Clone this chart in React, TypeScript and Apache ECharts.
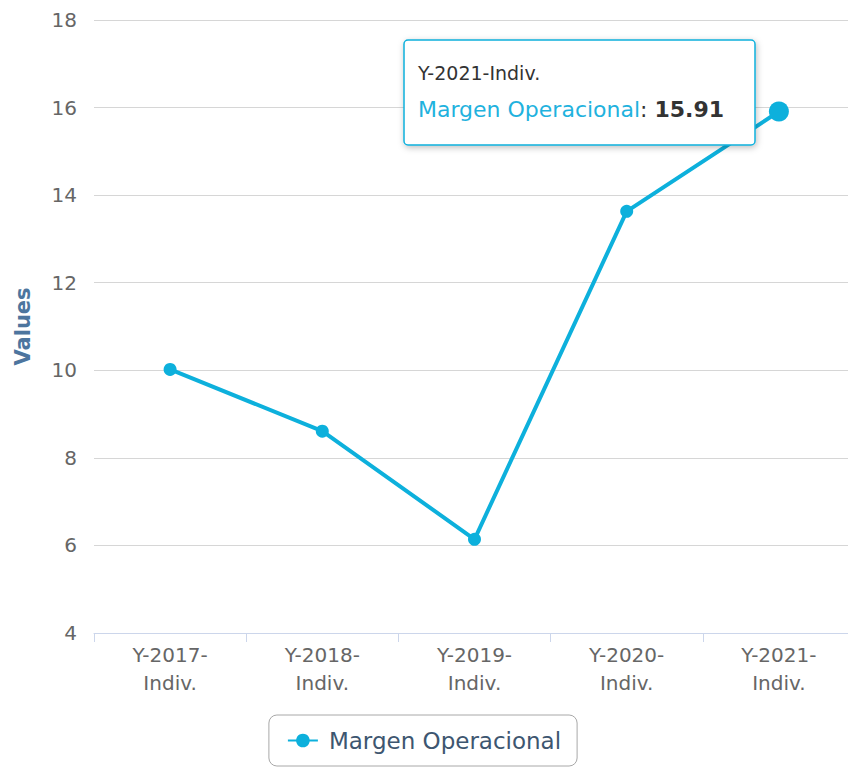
import React, { useEffect, useRef } from "react";
import * as echarts from "echarts";

const categories = ["Y-2017-\nIndiv.", "Y-2018-\nIndiv.", "Y-2019-\nIndiv.", "Y-2020-\nIndiv.", "Y-2021-\nIndiv."];
const seriesName = "Margen Operacional";
const values = [10.02, 8.61, 6.14, 13.63, 15.91];
const yTicks = { min: 4, max: 18, interval: 2 };
const tooltipHeader = "Y-2021-Indiv.";
const tooltipValue = "15.91";

const COLOR = "#0db0dc";
const FONT = "DejaVu Sans";

export default function App() {
  const ref = useRef<HTMLDivElement>(null);
  useEffect(() => {
    const chart = echarts.init(ref.current!, null, { renderer: "svg" });
    chart.setOption({
      animation: false,
      textStyle: { fontFamily: FONT },
      grid: {
        left: 94,
        right: -7,
        top: 20,
        bottom: 137,
        containLabel: false,
        outerBoundsMode: "none",
      },
      xAxis: {
        type: "category",
        data: categories,
        boundaryGap: true,
        axisLine: { show: true, lineStyle: { color: "#ccd6eb", width: 1 } },
        axisTick: { show: true, length: 9, lineStyle: { color: "#ccd6eb" } },
        axisLabel: { color: "#666666", fontSize: 20, fontFamily: FONT, margin: 8, lineHeight: 28 },
        splitLine: { show: false },
      },
      yAxis: {
        type: "value",
        min: yTicks.min,
        max: yTicks.max,
        interval: yTicks.interval,
        name: "Values",
        nameLocation: "middle",
        nameGap: 61,
        nameTextStyle: { color: "#4d759e", fontSize: 21, fontWeight: "bold", fontFamily: FONT },
        axisLine: { show: false },
        axisTick: { show: false },
        axisLabel: { color: "#666666", fontSize: 20, fontFamily: FONT, margin: 17 },
        splitLine: { show: true, lineStyle: { color: "#d6d6d6", width: 1 } },
      },
      legend: {
        show: true,
        left: "center",
        top: 715,
        data: [seriesName],
        itemWidth: 30,
        itemHeight: 17,
        padding: [14, 16, 14, 18],
        borderColor: "#a8a8a8",
        borderWidth: 1,
        borderRadius: 8,
        textStyle: { color: "#3d5670", fontSize: 23, fontFamily: FONT, padding: [0, 0, 0, 6] },
      },
      series: [
        {
          name: seriesName,
          type: "line",
          data: values.map((v, i) =>
            i === values.length - 1 ? { value: v, symbolSize: 20 } : { value: v }
          ),
          symbol: "circle",
          symbolSize: 13,
          itemStyle: { color: COLOR },
          lineStyle: { color: COLOR, width: 4 },
          emphasis: { disabled: true },
        },
      ],
      graphic: [
        {
          type: "rect",
          shape: { x: 404, y: 40, width: 351, height: 105, r: 4 },
          style: {
            fill: "#ffffff",
            stroke: COLOR,
            lineWidth: 1.5,
            shadowBlur: 6,
            shadowColor: "rgba(0,0,0,0.25)",
            shadowOffsetX: 1,
            shadowOffsetY: 2,
          },
          z: 100,
        },
        {
          type: "text",
          x: 418,
          y: 73,
          style: {
            text: tooltipHeader,
            fill: "#333333",
            fontSize: 19,
            fontFamily: FONT,
            verticalAlign: "middle",
          },
          z: 101,
        },
        {
          type: "text",
          x: 418,
          y: 109,
          style: {
            text: "{a|" + seriesName + "}{b|: }{c|" + tooltipValue + "}",
            fontFamily: FONT,
            verticalAlign: "middle",
            rich: {
              a: { fill: "#1fb2de", fontSize: 22, fontFamily: FONT },
              b: { fill: "#333333", fontSize: 22, fontFamily: FONT },
              c: { fill: "#333333", fontSize: 22, fontWeight: "bold", fontFamily: FONT },
            },
          },
          z: 101,
        },
      ],
    });
    return () => chart.dispose();
  }, []);
  return (
    <div
      ref={ref}
      style={{ position: "absolute", left: 0, top: 0, width: 848, height: 770 }}
    />
  );
}
